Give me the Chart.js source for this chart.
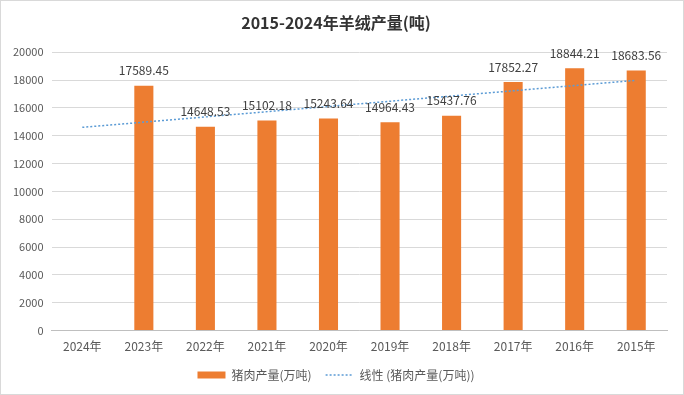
<!DOCTYPE html>
<html><head><meta charset="utf-8">
<script src="https://cdn.jsdelivr.net/npm/chart.js@4/dist/chart.umd.min.js"></script>
<style>html,body{margin:0;padding:0;background:#fff;}#wrap{width:684px;height:395px;position:relative;box-sizing:border-box;border:1px solid #d9d9d9;}</style>
</head><body><div id="wrap"><canvas id="c"></canvas></div>
<script>
const categories = ['2024年','2023年','2022年','2021年','2020年','2019年','2018年','2017年','2016年','2015年'];
const production = [null,17589.45,14648.53,15102.18,15243.64,14964.43,15437.76,17852.27,18844.21,18683.56];
const trendEnds = [14600,null,null,null,null,null,null,null,null,17980];
const yTicks = [0,2000,4000,6000,8000,10000,12000,14000,16000,18000,20000];
const titleText = '2015-2024年羊绒产量(吨)';
const seriesName = '猪肉产量(万吨)';
const trendName = '线性 (猪肉产量(万吨))';

const FONT = "'Noto Sans CJK SC', 'Noto Sans', sans-serif";

const labelPlugin = {
  id: 'valLabels',
  afterDatasetsDraw(chart) {
    const ctx = chart.ctx;
    const meta = chart.getDatasetMeta(0);
    ctx.save();
    ctx.font = '12px ' + FONT;
    ctx.fillStyle = '#404040';
    ctx.textAlign = 'center';
    ctx.textBaseline = 'bottom';
    meta.data.forEach((el, i) => {
      const v = production[i];
      if (v == null) return;
      ctx.fillText(v.toFixed(2), el.x, el.y - 9);
    });
    ctx.restore();
  }
};

new Chart(document.getElementById('c'), {
  data: {
    labels: categories,
    datasets: [
      { type: 'bar', label: seriesName, data: production, backgroundColor: '#ED7D31',
        barPercentage: 0.62, categoryPercentage: 0.5, order: 2 },
      { type: 'line', label: trendName, data: trendEnds, spanGaps: true, borderColor: '#5B9BD5',
        borderWidth: 1.5, borderDash: [2,2], pointRadius: 0, fill: false, order: 1,
        backgroundColor: '#5B9BD5' }
    ]
  },
  options: {
    responsive: true, maintainAspectRatio: false, animation: false,
    layout: { padding: { left: 4, right: 16, top: 4, bottom: 3 } },
    plugins: {
      title: { display: true, text: titleText, color: '#333333',
        font: { family: FONT, size: 16, weight: 'bold' }, padding: { top: 8, bottom: 20 } },
      legend: { position: 'bottom',
        labels: { color: '#595959', font: { family: FONT, size: 12 }, usePointStyle: true,
          pointStyleWidth: 28, boxHeight: 7, padding: 14,
          generateLabels(chart) {
            const items = Chart.defaults.plugins.legend.labels.generateLabels(chart);
            items.sort((a, b) => a.datasetIndex - b.datasetIndex);
            items.forEach(it => {
              if (it.datasetIndex === 0) { it.pointStyle = 'rect'; it.lineWidth = 0; }
              else { it.pointStyle = 'line'; it.lineDash = [2,2]; it.lineWidth = 1.5; it.strokeStyle = '#5B9BD5'; }
            });
            return items;
          } } },
      tooltip: { enabled: false }
    },
    scales: {
      x: { grid: { display: false }, border: { color: '#BFBFBF' },
        ticks: { color: '#595959', font: { family: FONT, size: 12 }, padding: 1 } },
      y: { min: 0, max: 20000, afterBuildTicks(ax) { ax.ticks = yTicks.map(v => ({ value: v })); },
        grid: { color: '#D9D9D9', drawTicks: false }, border: { display: false },
        ticks: { color: '#595959', font: { family: FONT, size: 11 }, padding: 8,
          callback: v => String(v) } }
    }
  },
  plugins: [labelPlugin]
});
</script></body></html>
